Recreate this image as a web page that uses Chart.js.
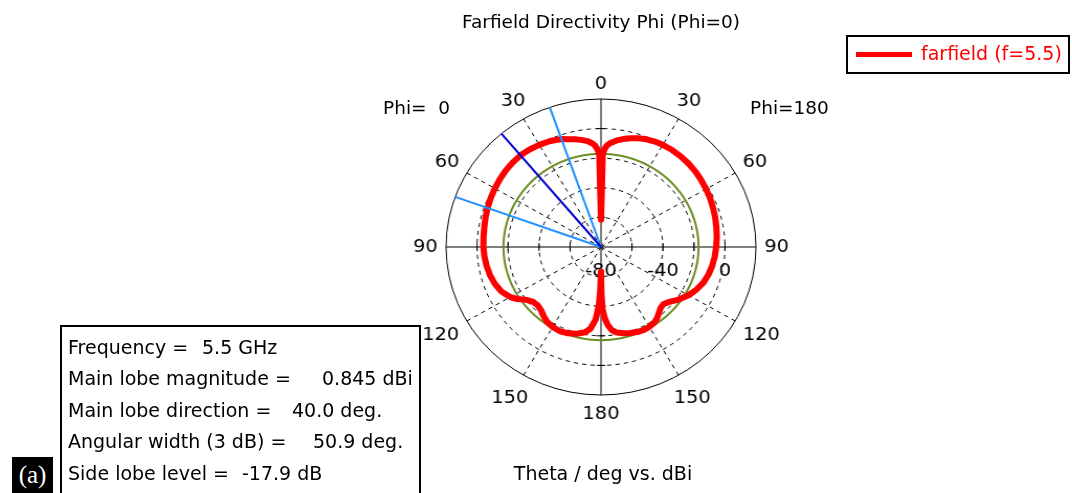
<!DOCTYPE html>
<html>
<head>
<meta charset="utf-8">
<script src="https://cdn.jsdelivr.net/npm/chart.js@4.4.1/dist/chart.umd.min.js"></script>
<style>
  body { margin: 0; width: 1072px; height: 493px; background: #fff; overflow: hidden; position: relative; font-family: "DejaVu Sans", sans-serif; color: #000; }
  #wrap { position: absolute; left: 0; top: 0; width: 1072px; height: 493px; transform: scaleX(1.047); transform-origin: 601px 0; }
  #chart { position: absolute; left: 0; top: 0; }
  .t { position: absolute; white-space: pre; }
  .s185 { font-size: 18.5px; line-height: 18.5px; }
  .s19 { font-size: 19px; line-height: 19px; }
  #legend { position: absolute; left: 846px; top: 35px; width: 224px; height: 39px; box-sizing: border-box; border: 2px solid #000; }
  #legline { position: absolute; left: 856px; top: 52px; width: 56px; height: 5px; background: #ff0000; }
  #info { position: absolute; left: 60px; top: 325px; width: 361px; height: 200px; box-sizing: border-box; border: 2px solid #000; }
  #tag { position: absolute; left: 12px; top: 457px; width: 41px; height: 36px; background: #000; color: #fff; font-family: "Liberation Serif", serif; font-size: 25px; line-height: 36px; text-align: center; }
</style>
</head>
<body>
<div id="wrap"><canvas id="chart" width="1072" height="493"></canvas></div>

<div class="t s185" style="left:601px; top:12.8px; transform:translateX(-50%);">Farfield Directivity Phi (Phi=0)</div>

<div id="legend"></div>
<div id="legline"></div>
<div class="t s19" style="left:921px; top:43.9px; color:#ff0000;">farfield (f=5.5)</div>

<div class="t s185" style="left:383px; top:99.3px;">Phi=  0</div>
<div class="t s185" style="left:750px; top:99.3px;">Phi=180</div>

<div id="info"></div>
<div class="t s19" style="left:68px; top:337.9px;">Frequency =</div>
<div class="t s19" style="left:202px; top:337.9px;">5.5 GHz</div>
<div class="t s19" style="left:68px; top:369.4px;">Main lobe magnitude =</div>
<div class="t s19" style="left:322px; top:369.4px;">0.845 dBi</div>
<div class="t s19" style="left:68px; top:400.9px;">Main lobe direction =</div>
<div class="t s19" style="left:292px; top:400.9px;">40.0 deg.</div>
<div class="t s19" style="left:68px; top:432.4px;">Angular width (3 dB) =</div>
<div class="t s19" style="left:313px; top:432.4px;">50.9 deg.</div>
<div class="t s19" style="left:68px; top:463.9px;">Side lobe level =</div>
<div class="t s19" style="left:242px; top:463.9px;">-17.9 dB</div>

<div class="t s19" style="left:603px; top:463.9px; transform:translateX(-50%);">Theta / deg vs. dBi</div>

<div id="tag">(a)</div>

<script>
// radial axis (dBi)
const RMIN = -80, RMAX = 20, RSTEP = 20;
const radialTickLabels = [-80, -40, 0];
// angle labels every 30 deg, clockwise from the top
const angleTickLabels = ['0', '30', '60', '90', '120', '150', '180', '150', '120', '90', '60', '30'];

// theta cut, Phi = 0 half (drawn on the left)
const thetaPhi0 = [0, 1, 2, 3, 4, 5, 7, 10, 13, 16, 19, 22, 25, 30, 35, 40, 45, 50, 55, 60,
  65, 70, 75, 80, 85, 90, 95, 100, 105, 110, 115, 120, 123, 126, 130, 134, 138, 142, 146, 150,
  155, 160, 165, 170, 173, 176, 178, 179, 180];
const dirPhi0 = [-61.5, -17.5, -14, -11.8, -10.4, -9.4, -7.9, -6.5, -5.3, -4.2, -2.9, -2.0, -1.2, -0.3, 0.4, 0.845, 0.7, 0.35, -0.25, -0.9,
  -1.5, -2.15, -2.85, -3.5, -3.9, -4.1, -4.5, -5.1, -5.9, -7.1, -9.0, -12.3, -15.5, -19.5, -22.5, -23.2, -22.3, -20.2, -18.4, -17.6,
  -17.2, -17.9, -19.3, -21.5, -24.5, -31, -41, -50, -63.5];

// theta cut, Phi = 180 half (drawn on the right)
const thetaPhi180 = [0, 1, 2, 3, 4, 5, 8, 11, 14.5, 18, 22, 26, 30, 35, 40, 45, 50, 55, 60, 65,
  70, 75, 80, 85, 90, 95, 100, 105, 110, 115, 120, 125, 130, 134, 137, 140, 143, 146, 150, 154,
  158, 162, 166, 170, 173, 175.5, 177, 178.7, 179.5, 180];
const dirPhi180 = [-61.5, -17, -13.8, -11.6, -10.4, -9.5, -7.3, -5.7, -4.1, -2.8, -1.5, -0.7, -0.3, 0.0, 0.0, -0.2, -0.6, -1.1, -1.7, -2.3,
  -3.0, -3.7, -4.4, -5.0, -5.7, -6.3, -7.1, -8.2, -9.7, -12.0, -14.8, -18.4, -22.4, -24.2, -23.6, -21.9, -19.9, -18.5, -17.7, -17.5,
  -18.0, -18.9, -20.0, -21.3, -23.5, -27.5, -31.5, -38, -48, -63.5];

// lobe markers (Phi = 0 side)
const mainLobeMag = 0.845;
const mainLobeDir = 40.0;
const beamEdges = [19.3, 70.2];
const sideLobeLevel = -17.9;

// the radar grid runs at 0.1 deg so every marker angle has its own spoke
const STEP = 0.1;
const N = Math.round(360 / STEP);
const idx = a => ((Math.round(a / STEP) % N) + N) % N;

const labels = new Array(N).fill('');

const pattern = new Array(N).fill(null);
thetaPhi180.forEach((t, i) => { pattern[idx(t)] = dirPhi180[i]; });
thetaPhi0.forEach((t, i) => { pattern[idx(360 - t)] = dirPhi0[i]; });

// a line from the outer ring to the centre along one theta on the Phi = 0 side
function ray(theta) {
  const d = new Array(N).fill(null);
  const k = idx(360 - theta);
  d[k] = RMAX;
  d[(k + 1) % N] = RMIN;
  return d;
}

const sideLobeRing = new Array(N).fill(mainLobeMag + sideLobeLevel);

// axis ticks, angle labels and dB labels
const polarDecor = {
  id: 'polarDecor',
  beforeDatasetsDraw(chart) {
    const s = chart.scales.r;
    const c = chart.ctx;
    const cx = s.xCenter, cy = s.yCenter;
    c.save();
    c.strokeStyle = '#000';
    c.lineWidth = 1;
    c.setLineDash([]);
    c.beginPath();
    for (let v = RMIN + RSTEP; v < RMAX; v += RSTEP) {
      const d = s.getDistanceFromCenterForValue(v);
      c.moveTo(cx + d, cy - 4); c.lineTo(cx + d, cy + 4);
      c.moveTo(cx - d, cy - 4); c.lineTo(cx - d, cy + 4);
      c.moveTo(cx - 4, cy - d); c.lineTo(cx + 4, cy - d);
      c.moveTo(cx - 4, cy + d); c.lineTo(cx + 4, cy + d);
    }
    c.stroke();

    c.fillStyle = '#000';
    c.font = '18.5px "DejaVu Sans"';
    c.textAlign = 'center';
    c.textBaseline = 'middle';
    angleTickLabels.forEach((txt, i) => {
      const a = i * 30 * Math.PI / 180;
      const w = c.measureText(txt).width;
      const lift = Math.cos(a) > 0 ? 7 : 11;
      const r = s.drawingArea + 8 + Math.abs(Math.sin(a)) * w / 2 + Math.abs(Math.cos(a)) * lift;
      const p = s.getPointPosition(idx(i * 30), r);
      c.fillText(txt, p.x, p.y);
    });
    radialTickLabels.forEach(v => {
      const p = s.getPointPositionForValue(idx(90), v);
      c.fillText(String(v), p.x, p.y + 24.5);
    });
    c.restore();
  }
};

new Chart(document.getElementById('chart'), {
  type: 'radar',
  data: {
    labels: labels,
    datasets: [
      { label: 'main lobe', data: ray(mainLobeDir), borderColor: '#0000cd', borderWidth: 2, spanGaps: false, fill: false },
      { label: '3 dB edge', data: ray(beamEdges[0]), borderColor: '#1e90ff', borderWidth: 2, spanGaps: false, fill: false },
      { label: '3 dB edge', data: ray(beamEdges[1]), borderColor: '#1e90ff', borderWidth: 2, spanGaps: false, fill: false },
      { label: 'farfield (f=5.5)', data: pattern, borderColor: '#ff0000', borderWidth: 6, spanGaps: true, fill: false,
        borderJoinStyle: 'round', borderCapStyle: 'round' },
      { label: 'side lobe level', data: sideLobeRing, borderColor: '#6b8e23', borderWidth: 2, spanGaps: true, fill: false }
    ]
  },
  options: {
    responsive: false,
    animation: false,
    devicePixelRatio: 1,
    layout: { padding: { left: 453.5, right: 322.5, top: 99.5, bottom: 97.5 } },
    elements: { point: { radius: 0, hoverRadius: 0 }, line: { tension: 0 } },
    plugins: { legend: { display: false }, tooltip: { enabled: false } },
    scales: {
      r: {
        min: RMIN,
        max: RMAX,
        ticks: { stepSize: RSTEP, display: false },
        pointLabels: { display: false },
        grid: { circular: true, color: '#000', lineWidth: 1 },
        border: { dash: ctx => (ctx.tick && ctx.tick.value === RMAX) ? [] : [4, 4] },
        angleLines: {
          color: '#000',
          lineWidth: ctx => (ctx.index % 300 === 0 ? 1 : 0),
          borderDash: ctx => (ctx.index % 900 === 0 ? [] : [4, 4])
        }
      }
    }
  },
  plugins: [polarDecor]
});
</script>
</body>
</html>
